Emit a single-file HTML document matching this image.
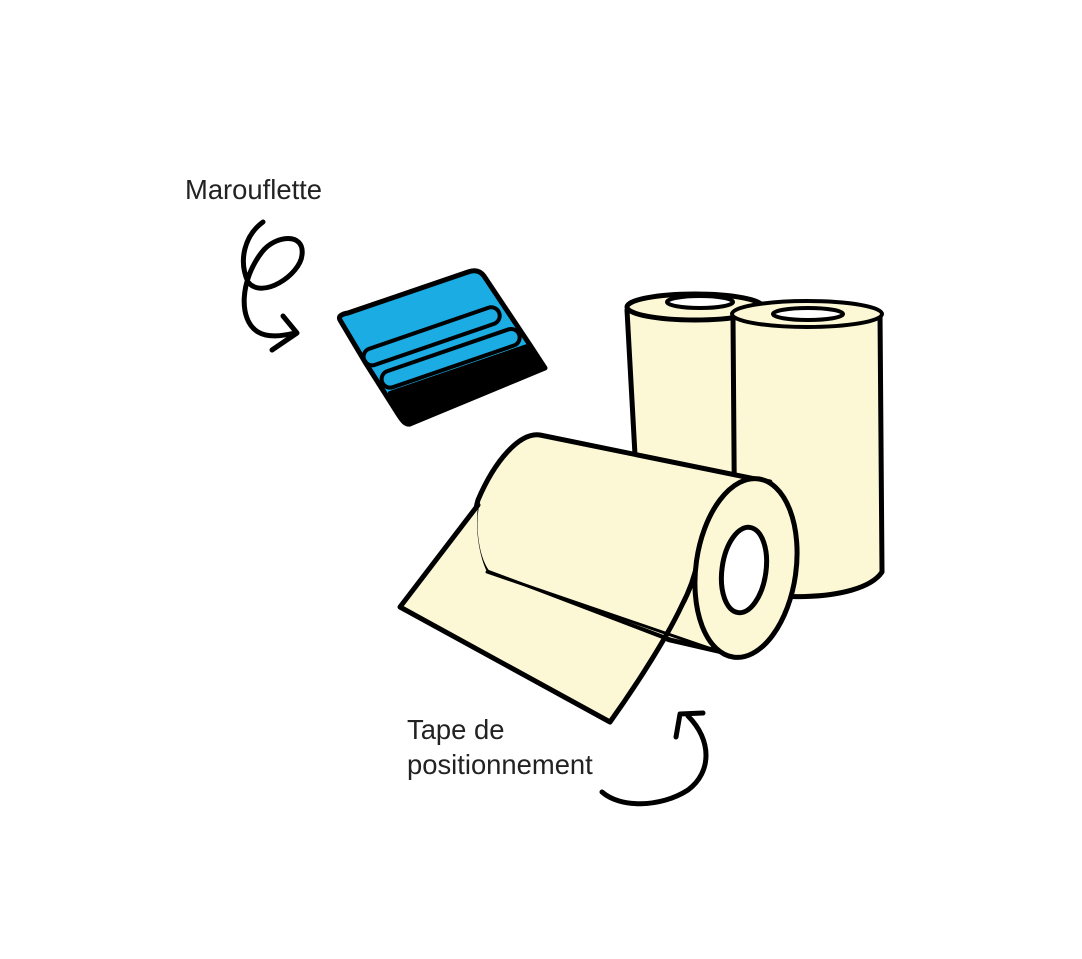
<!DOCTYPE html>
<html><head><meta charset="utf-8"><style>
html,body{margin:0;padding:0;background:#fff;width:1082px;height:959px;overflow:hidden}
svg{display:block}
text{font-family:"Liberation Sans",sans-serif;font-size:27.4px;fill:#222}
</style></head><body>
<svg width="1082" height="959" viewBox="0 0 1082 959" stroke="#000" stroke-linecap="round" stroke-linejoin="round">
<text x="185" y="199" stroke="none">Marouflette</text>
<text x="407" y="739" stroke="none">Tape de</text>
<text x="407" y="774" stroke="none">positionnement</text>
<!-- arrows -->
<path d="M263 222 C245 235 238 260 248 282 C262 300 300 275 302 255 C305 232 275 235 262 252 C240 280 238 320 258 332 C268 338 282 336 295 333" fill="none" stroke-width="5"/>
<path d="M283 316 L297 333 L272 350" fill="none" stroke-width="5"/>
<path d="M602 792 C620 808 660 808 688 790 C712 772 712 740 688 716" fill="none" stroke-width="5"/>
<path d="M676 737 L680 714 L703 713" fill="none" stroke-width="5"/>
<!-- squeegee -->
<path d="M340 320 C338 316 342 314 348 313 L468 272 C476 269 481 272 484 276 L530 345 L545 368 L410 424 C405 425 402 420 398 414 L365 362 Z" fill="#1aace3" stroke-width="5"/>
<path d="M390 393 L530 345 L545 368 L410 424 C404 424 401 418 398 412 Z" fill="#000" stroke-width="4"/>
<rect x="360" y="328" width="143" height="17" rx="8.5" transform="rotate(-19 431 336)" fill="none" stroke-width="4"/>
<rect x="378" y="350" width="145" height="17" rx="8.5" transform="rotate(-19 450 358)" fill="none" stroke-width="4"/>
<!-- back roll 1 -->
<path d="M627 310 L635 455 L735 475 L760 305 Z" fill="#fcf8d5" stroke="none"/>
<path d="M627 310 L635 455" fill="none" stroke-width="5"/>
<ellipse cx="695" cy="307" rx="68" ry="13" fill="#fcf8d5" stroke-width="5"/>
<ellipse cx="700" cy="302" rx="33" ry="6" fill="#fff" stroke-width="4"/>
<!-- back roll 2 -->
<path d="M733 316 L735 585 C750 600 860 605 882 572 L880 312 Z" fill="#fcf8d5" stroke-width="5"/>
<ellipse cx="807" cy="314" rx="75" ry="13" fill="#fcf8d5" stroke-width="4"/>
<ellipse cx="808" cy="314" rx="35" ry="6" fill="#fff" stroke-width="4"/>
<!-- front roll body -->
<path d="M540 435 L770 482 L735 655 L670 640 L487 572 C475 555 472 520 478 500 C495 460 520 432 540 435 Z" fill="#fcf8d5" stroke-width="5"/>
<!-- sheet -->
<path d="M478 505 L400 607 L610 722 L665 640 L487 572 C479 555 475 530 478 505 Z" fill="#fcf8d5" stroke="none"/>
<path d="M478 505 L400 607 L610 722 C640 680 668 635 682 605 C690 590 695 575 698 560" fill="none" stroke-width="5"/>
<path d="M487 572 L735 657" fill="none" stroke-width="3"/>
<ellipse cx="746" cy="568" rx="50" ry="90" transform="rotate(8 746 568)" fill="#fcf8d5" stroke-width="5"/>
<ellipse cx="744" cy="570" rx="22" ry="43" transform="rotate(8 744 570)" fill="#fff" stroke-width="5"/>
</svg>
</body></html>
